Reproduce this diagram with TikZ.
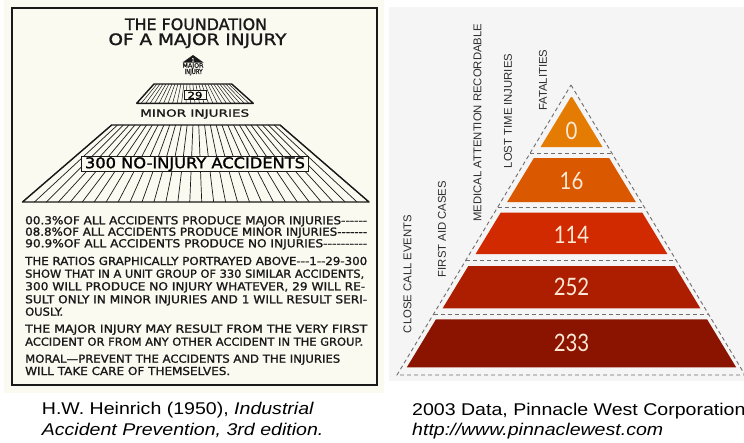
\documentclass[tikz,border=0pt]{standalone}
\usepackage{fontspec}
\usepackage{graphicx}
\setmainfont{Liberation Sans}
\newfontfamily\handfont[FakeBold=1.3]{DejaVu Sans}
\newfontfamily\numfont{Lato}
\definecolor{cream}{RGB}{251,250,241}
\definecolor{panelgray}{RGB}{245,245,245}
\definecolor{ink}{RGB}{25,25,25}
\definecolor{bandA}{RGB}{228,124,4}
\definecolor{bandB}{RGB}{218,88,0}
\definecolor{bandC}{RGB}{209,42,0}
\definecolor{bandD}{RGB}{173,30,0}
\definecolor{bandE}{RGB}{138,20,0}
\definecolor{numcol}{RGB}{252,232,212}
\definecolor{dashcol}{RGB}{110,110,110}
\definecolor{labelcol}{RGB}{45,45,45}
\newcommand{\fitline}[3]{\resizebox{#1pt}{#2pt}{\handfont #3}}
\tikzset{
  hl/.style={anchor=base west, inner sep=0pt, text=ink},
  hc/.style={anchor=base, inner sep=0pt, text=ink},
  hatchline/.style={line width=0.7pt, draw=ink},
  edgeline/.style={line width=1.4pt, draw=ink, line join=round},
  vlabel/.style={rotate=90, anchor=west, inner sep=0pt, text=labelcol, font=\fontsize{11.3}{13}\selectfont},
  numlabel/.style={inner sep=0pt, text=numcol, font=\numfont\fontsize{24}{28}\selectfont},
  dashline/.style={draw=dashcol, dash pattern=on 4pt off 3pt, line width=0.9pt},
  captxt/.style={anchor=base west, inner sep=0pt, font=\fontsize{17}{20}\selectfont},
}
\begin{document}
\begin{tikzpicture}[x=1pt,y=-1pt]
\useasboundingbox (0,0) rectangle (744,442);
\fill[white] (0,0) rectangle (744,442);
% ---------- left panel ----------
\fill[cream] (4,0) rectangle (384,393);
\draw[line width=2pt, ink] (12,8) rectangle (377,385);
\node[hc] (title1) at (196,30) {\fitline{142}{11.7}{THE FOUNDATION}};
\node[hc] (title2) at (197.5,45) {\fitline{178}{11.7}{OF A MAJOR INJURY}};
% apex triangle
\fill[ink] (193,55) -- (203.5,62.5) -- (182.5,62.5) -- cycle;
\node[inner sep=0pt, text=white, font=\handfont\fontsize{4.5}{5}\selectfont] (one) at (193,59.8) {1};
\node[hc] (major) at (193,67.7) {\fitline{21}{4.5}{MAJOR}};
\node[hc] (injury) at (193.5,74) {\fitline{18}{5}{INJURY}};
% small trapezoid
\foreach \i in {0,...,26} {
  \draw[hatchline, line width=0.5pt] ({154+\i*77.7/26},84) -- ({136.7+\i*116.6/26},103.3);
}
\draw[edgeline] (136.7,103.3) -- (154,84) -- (231.7,84) -- (253.3,103.3) -- cycle;
\node[draw=ink, line width=1pt, fill=cream, minimum width=22pt, minimum height=9.3pt, inner sep=0pt] (box29) at (195,95.3) {\fitline{15}{7}{29}};
\node[hc] (minor) at (194.7,116.7) {\fitline{109}{7.4}{MINOR INJURIES}};
% big trapezoid
\foreach \i in {0,...,29} {
  \draw[hatchline] ({111.7+\i*168.3/29},125) -- ({22.5+\i*346.5/29},202);
}
\draw[edgeline] (22.5,202) -- (111.7,125) -- (280,125) -- (369,202) -- cycle;
\node[draw=ink, line width=1.3pt, fill=cream, minimum width=226.6pt, minimum height=15pt, inner sep=0pt] (box300) at (195,164.2) {\fitline{220}{11}{300 NO-INJURY ACCIDENTS}};
% text block
\node[hl] (l1) at (25,224.3) {\fitline{342}{8.2}{00.3\%OF ALL ACCIDENTS PRODUCE MAJOR INJURIES-{}-{}-{}-{}-{}-}};
\node[hl] (l2) at (25,235.7) {\fitline{342}{8.2}{08.8\%OF ALL ACCIDENTS PRODUCE MINOR INJURIES-{}-{}-{}-{}-{}-{}-}};
\node[hl] (l3) at (25,247.3) {\fitline{342}{8.2}{90.9\%OF ALL ACCIDENTS PRODUCE NO INJURIES-{}-{}-{}-{}-{}-{}-{}-{}-{}-}};
\node[hl] (l4) at (25,265) {\fitline{342}{8.2}{THE RATIOS GRAPHICALLY PORTRAYED ABOVE-{}-{}-1-{}-29-300}};
\node[hl] (l5) at (25,277.7) {\fitline{339}{8.2}{SHOW THAT IN A UNIT GROUP OF 330 SIMILAR ACCIDENTS,}};
\node[hl] (l6) at (25,290.3) {\fitline{340}{8.2}{300 WILL PRODUCE NO INJURY WHATEVER, 29 WILL RE-}};
\node[hl] (l7) at (25,303.3) {\fitline{342}{8.2}{SULT ONLY IN MINOR INJURIES AND 1 WILL RESULT SERI-}};
\node[hl] (l8) at (25,315.7) {\fitline{38}{8.2}{OUSLY.}};
\node[hl] (l9) at (25,332.7) {\fitline{342}{8.2}{THE MAJOR INJURY MAY RESULT FROM THE VERY FIRST}};
\node[hl] (l10) at (25,345.7) {\fitline{338}{8.2}{ACCIDENT OR FROM ANY OTHER ACCIDENT IN THE GROUP.}};
\node[hl] (l11) at (25,362.7) {\fitline{315}{8.2}{MORAL—PREVENT THE ACCIDENTS AND THE INJURIES}};
\node[hl] (l12) at (25,375) {\fitline{205}{8.2}{WILL TAKE CARE OF THEMSELVES.}};
% ---------- right panel ----------
\fill[panelgray] (389,7.3) rectangle (744,380.7);
\foreach \ya/\yb/\col in {97/147/bandA, 158/202/bandB, 212.7/254/bandC, 266/308.3/bandD, 319.3/367.3/bandE} {
  \fill[\col] ({571.5-0.607*(\ya-96)},\ya) -- ({571.5+0.607*(\ya-96)},\ya) -- ({571.5+0.607*(\yb-96)},\yb) -- ({571.5-0.607*(\yb-96)},\yb) -- cycle;
}
\draw[dashline] (571,85) -- (745,375) -- (397,375) -- cycle;
\foreach \s in {153.3,207.5,260,314} {
  \draw[dashline] ({571-0.6*(\s-85)},\s) -- ({571+0.6*(\s-85)},\s);
}
\node[numlabel] (n0) at (571.5,130.8) {\scalebox{0.85}[1]{0}};
\node[numlabel] (n16) at (571.5,181) {\scalebox{0.85}[1]{16}};
\node[numlabel] (n114) at (571.5,234.5) {\scalebox{0.85}[1]{114}};
\node[numlabel] (n252) at (571.5,287) {\scalebox{0.85}[1]{252}};
\node[numlabel] (n233) at (571.5,343) {\scalebox{0.85}[1]{233}};
\node[vlabel] (vfat) at (543,111) {FATALITIES};
\node[vlabel] (vlost) at (508,168.3) {LOST TIME INJURIES};
\node[vlabel] (vmed) at (477.5,221.7) {MEDICAL ATTENTION RECORDABLE};
\node[vlabel] (vfirst) at (442,277.3) {FIRST AID CASES};
\node[vlabel] (vclose) at (407.5,333.3) {CLOSE CALL EVENTS};
% ---------- captions ----------
\node[captxt] (capL1) at (41.7,414.3) {\scalebox{1.15}[1]{H.W. Heinrich (1950), \itshape Industrial}};
\node[captxt] (capL2) at (41.7,435) {\scalebox{1.15}[1]{\itshape Accident Prevention, 3rd edition.}};
\node[captxt] (capR1) at (412,415) {\scalebox{1.15}[1]{2003 Data, Pinnacle West Corporation}};
\node[captxt] (capR2) at (412,435.5) {\scalebox{1.15}[1]{\itshape http://www.pinnaclewest.com}};
\end{tikzpicture}
\end{document}
